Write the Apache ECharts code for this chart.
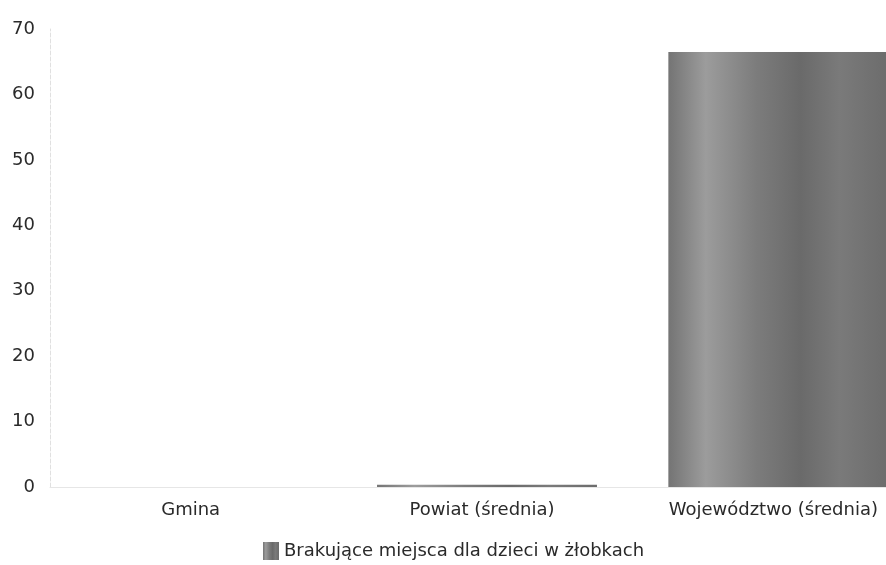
<!DOCTYPE html>
<html><head><meta charset="utf-8">
<script src="https://cdn.jsdelivr.net/npm/echarts@6/dist/echarts.min.js"></script>
<style>html,body{margin:0;padding:0;background:#fff;overflow:hidden;width:886px;height:565px}#c{width:924px;height:565px}</style>
</head><body><div id="c"></div>
<script>
const categories = ['Gmina', 'Powiat (średnia)', 'Województwo (średnia)'];
const values = [0, 0.35, 66.5];
const seriesName = 'Brakujące miejsca dla dzieci w żłobkach';
const yTicks = [0, 10, 20, 30, 40, 50, 60, 70];

const grad = new echarts.graphic.LinearGradient(0, 0, 1, 0, [
  {offset: 0, color: '#747474'},
  {offset: 0.17, color: '#9c9c9c'},
  {offset: 0.4, color: '#7c7c7c'},
  {offset: 0.6, color: '#6a6a6a'},
  {offset: 0.78, color: '#7a7a7a'},
  {offset: 1, color: '#6c6c6c'}
]);
const chart = echarts.init(document.getElementById('c'));
chart.setOption({
  animation: false,
  textStyle: {fontFamily: 'DejaVu Sans'},
  grid: {left: 50, top: 29, bottom: 78, right: 0, containLabel: false},
  legend: {
    bottom: 0, left: 258, itemWidth: 16, itemHeight: 18, itemGap: 6,
    icon: 'rect',
    textStyle: {fontSize: 18, color: '#2a2a2a', fontFamily: 'DejaVu Sans'},
    data: [seriesName]
  },
  xAxis: {
    type: 'category', data: categories,
    axisLine: {show: true, lineStyle: {color: '#e6e6e6'}},
    axisTick: {show: false},
    axisLabel: {fontSize: 18, color: '#2a2a2a', margin: 14, padding: [0, 10, 0, 0]}
  },
  yAxis: {
    type: 'value', min: yTicks[0], max: yTicks[yTicks.length - 1], interval: 10,
    axisLine: {show: true, lineStyle: {color: '#e0e0e0', type: 'dashed'}},
    axisTick: {show: false},
    splitLine: {show: false},
    axisLabel: {fontSize: 18, color: '#2a2a2a', margin: 15, align: 'right'}
  },
  series: [{
    name: seriesName, type: 'bar', data: values, barWidth: '75.5%',
    itemStyle: {color: grad}
  }]
});
</script></body></html>
